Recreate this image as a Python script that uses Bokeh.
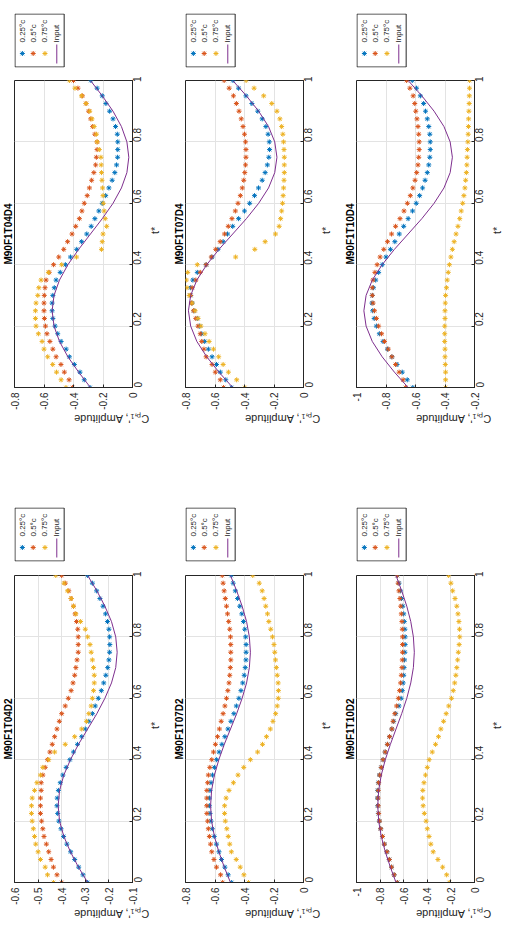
from math import pi

from bokeh.core.properties import value
from bokeh.embed import file_html
from bokeh.layouts import column, row
from bokeh.models import CustomJSTickFormatter, FixedTicker, Range1d
from bokeh.plotting import figure
from bokeh.resources import INLINE

# sample instants (non-dimensional time t*) of the measured series
T_STAR = [round(0.025 * i, 3) for i in range(41)]
# instants at which the input signal is listed
T_INPUT = [round(0.05 * i, 2) for i in range(21)]

SERIES_LABELS = ["0.25°c", "0.5°c", "0.75°c"]
INPUT_LABEL = "Input"
T_TICKS = [0, 0.2, 0.4, 0.6, 0.8, 1]

# ---- M90F1T04D2 ----
T04D2_025 = [-0.290, -0.310, -0.328, -0.345, -0.362, -0.378, -0.392, -0.403, -0.412, -0.417, -0.420,
             -0.419, -0.414, -0.406, -0.395, -0.381, -0.365, -0.350, -0.333, -0.315, -0.300,
             -0.285, -0.270, -0.258, -0.245, -0.232, -0.222, -0.213, -0.205, -0.200, -0.197,
             -0.196, -0.197, -0.200, -0.206, -0.214, -0.225, -0.238, -0.252, -0.270, -0.290]
T04D2_050 = [-0.400, -0.420, -0.435, -0.445, -0.455, -0.465, -0.475, -0.480, -0.485, -0.490, -0.490,
             -0.490, -0.487, -0.487, -0.480, -0.470, -0.460, -0.450, -0.440, -0.430, -0.420,
             -0.410, -0.400, -0.385, -0.372, -0.360, -0.352, -0.345, -0.340, -0.335, -0.330,
             -0.330, -0.330, -0.332, -0.337, -0.343, -0.350, -0.360, -0.370, -0.385, -0.400]
T04D2_075 = [-0.435, -0.460, -0.470, -0.490, -0.500, -0.510, -0.515, -0.520, -0.525, -0.528, -0.528,
             -0.525, -0.515, -0.505, -0.490, -0.480, -0.455, -0.430, -0.385, -0.345, -0.315,
             -0.295, -0.285, -0.275, -0.270, -0.265, -0.262, -0.262, -0.265, -0.270, -0.275,
             -0.280, -0.290, -0.300, -0.320, -0.340, -0.350, -0.360, -0.375, -0.390, -0.425]
T04D2_IN = [-0.290, -0.329, -0.363, -0.391, -0.409, -0.415, -0.409, -0.391, -0.363, -0.329, -0.290,
            -0.251, -0.217, -0.189, -0.171, -0.165, -0.171, -0.189, -0.217, -0.251, -0.290]
T04D2_TICKS = [-0.6, -0.5, -0.4, -0.3, -0.2, -0.1]

# ---- M90F1T04D4 ----
T04D4_025 = [-0.288, -0.327, -0.356, -0.394, -0.428, -0.450, -0.484, -0.507, -0.525, -0.540, -0.545,
             -0.545, -0.540, -0.530, -0.518, -0.490, -0.455, -0.420, -0.378, -0.345, -0.310,
             -0.280, -0.255, -0.228, -0.205, -0.182, -0.160, -0.138, -0.120, -0.108, -0.101,
             -0.100, -0.100, -0.103, -0.115, -0.132, -0.155, -0.180, -0.205, -0.240, -0.282]
T04D4_050 = [-0.406, -0.430, -0.462, -0.485, -0.518, -0.540, -0.560, -0.580, -0.590, -0.597, -0.600,
             -0.600, -0.598, -0.593, -0.586, -0.565, -0.535, -0.500, -0.466, -0.440, -0.410,
             -0.385, -0.360, -0.343, -0.327, -0.307, -0.292, -0.277, -0.262, -0.250, -0.245,
             -0.240, -0.240, -0.255, -0.270, -0.283, -0.297, -0.315, -0.340, -0.370, -0.400]
T04D4_075 = [-0.451, -0.484, -0.515, -0.541, -0.575, -0.600, -0.613, -0.638, -0.654, -0.658, -0.658,
             -0.654, -0.642, -0.635, -0.620, -0.570, -0.480, -0.380, -0.210, -0.205, -0.200,
             -0.175, -0.185, -0.192, -0.198, -0.200, -0.203, -0.207, -0.210, -0.212, -0.214,
             -0.225, -0.240, -0.245, -0.260, -0.275, -0.290, -0.315, -0.345, -0.390, -0.428]
T04D4_IN = [-0.285, -0.365, -0.438, -0.495, -0.532, -0.545, -0.532, -0.495, -0.438, -0.365, -0.285,
            -0.205, -0.132, -0.075, -0.038, -0.025, -0.038, -0.075, -0.132, -0.205, -0.285]
T04D4_TICKS = [-0.8, -0.6, -0.4, -0.2, 0]

# ---- M90F1T07D2 ----
T07D2_025 = [-0.487, -0.511, -0.533, -0.556, -0.573, -0.590, -0.605, -0.618, -0.627, -0.634, -0.638,
             -0.638, -0.634, -0.627, -0.617, -0.604, -0.589, -0.572, -0.553, -0.533, -0.512,
             -0.492, -0.472, -0.455, -0.438, -0.424, -0.412, -0.402, -0.395, -0.390, -0.389,
             -0.389, -0.392, -0.398, -0.407, -0.418, -0.432, -0.447, -0.462, -0.477, -0.490]
T07D2_050 = [-0.548, -0.562, -0.590, -0.607, -0.622, -0.630, -0.638, -0.645, -0.650, -0.655, -0.656,
             -0.656, -0.655, -0.650, -0.645, -0.635, -0.622, -0.610, -0.597, -0.583, -0.570,
             -0.558, -0.545, -0.533, -0.522, -0.513, -0.505, -0.500, -0.496, -0.493, -0.493,
             -0.493, -0.495, -0.500, -0.507, -0.515, -0.522, -0.530, -0.538, -0.545, -0.551]
T07D2_075 = [-0.373, -0.404, -0.429, -0.456, -0.489, -0.500, -0.510, -0.520, -0.530, -0.535, -0.535,
             -0.525, -0.505, -0.475, -0.444, -0.405, -0.360, -0.311, -0.278, -0.251, -0.225,
             -0.207, -0.189, -0.178, -0.171, -0.170, -0.172, -0.178, -0.184, -0.190, -0.195,
             -0.200, -0.210, -0.222, -0.235, -0.244, -0.256, -0.267, -0.280, -0.300, -0.344]
T07D2_IN = [-0.495, -0.537, -0.574, -0.604, -0.623, -0.630, -0.623, -0.604, -0.574, -0.537, -0.495,
            -0.453, -0.416, -0.386, -0.367, -0.360, -0.367, -0.386, -0.416, -0.453, -0.495]
T07D2_TICKS = [-0.8, -0.6, -0.4, -0.2, 0]

# ---- M90F1T07D4 ----
T07D4_025 = [-0.487, -0.527, -0.564, -0.590, -0.620, -0.645, -0.670, -0.690, -0.705, -0.720, -0.742,
             -0.755, -0.765, -0.765, -0.750, -0.720, -0.660, -0.620, -0.580, -0.545, -0.515,
             -0.480, -0.440, -0.400, -0.365, -0.332, -0.305, -0.280, -0.260, -0.245, -0.235,
             -0.230, -0.232, -0.240, -0.255, -0.280, -0.310, -0.350, -0.390, -0.440, -0.478]
T07D4_050 = [-0.542, -0.564, -0.598, -0.620, -0.660, -0.675, -0.690, -0.700, -0.715, -0.730, -0.745,
             -0.760, -0.765, -0.755, -0.730, -0.700, -0.660, -0.625, -0.595, -0.565, -0.535,
             -0.510, -0.485, -0.462, -0.444, -0.428, -0.415, -0.405, -0.398, -0.393, -0.390,
             -0.390, -0.393, -0.400, -0.410, -0.422, -0.437, -0.455, -0.475, -0.504, -0.538]
T07D4_075 = [-0.398, -0.453, -0.509, -0.545, -0.575, -0.610, -0.640, -0.668, -0.696, -0.715, -0.735,
             -0.755, -0.775, -0.790, -0.795, -0.785, -0.720, -0.460, -0.330, -0.260, -0.190,
             -0.165, -0.155, -0.148, -0.142, -0.138, -0.135, -0.132, -0.130, -0.130, -0.130,
             -0.132, -0.135, -0.140, -0.148, -0.160, -0.180, -0.215, -0.270, -0.335, -0.389]
T07D4_IN = [-0.480, -0.573, -0.656, -0.723, -0.765, -0.780, -0.765, -0.723, -0.656, -0.573, -0.480,
            -0.387, -0.304, -0.237, -0.195, -0.180, -0.195, -0.237, -0.304, -0.387, -0.480]
T07D4_TICKS = [-0.8, -0.6, -0.4, -0.2, 0]

# ---- M90F1T10D2 ----
T10D2_025 = [-0.653, -0.681, -0.703, -0.722, -0.742, -0.764, -0.780, -0.795, -0.807, -0.815, -0.820,
             -0.822, -0.820, -0.815, -0.805, -0.790, -0.775, -0.757, -0.738, -0.720, -0.700,
             -0.685, -0.668, -0.640, -0.622, -0.612, -0.605, -0.600, -0.597, -0.593, -0.590,
             -0.588, -0.588, -0.590, -0.595, -0.600, -0.608, -0.618, -0.628, -0.640, -0.653]
T10D2_050 = [-0.655, -0.681, -0.703, -0.722, -0.742, -0.764, -0.780, -0.795, -0.805, -0.812, -0.816,
             -0.818, -0.816, -0.812, -0.803, -0.790, -0.775, -0.757, -0.738, -0.720, -0.700,
             -0.690, -0.675, -0.660, -0.645, -0.635, -0.627, -0.620, -0.615, -0.612, -0.610,
             -0.610, -0.610, -0.612, -0.615, -0.620, -0.625, -0.632, -0.640, -0.647, -0.655]
T10D2_075 = [-0.214, -0.236, -0.270, -0.310, -0.350, -0.370, -0.385, -0.400, -0.410, -0.425, -0.435,
             -0.440, -0.438, -0.428, -0.415, -0.400, -0.384, -0.358, -0.330, -0.305, -0.285,
             -0.262, -0.240, -0.218, -0.195, -0.180, -0.168, -0.158, -0.150, -0.143, -0.137,
             -0.130, -0.125, -0.127, -0.132, -0.140, -0.150, -0.165, -0.185, -0.200, -0.219]
T10D2_IN = [-0.665, -0.713, -0.756, -0.790, -0.812, -0.820, -0.812, -0.790, -0.756, -0.713, -0.665,
            -0.617, -0.574, -0.540, -0.518, -0.510, -0.518, -0.540, -0.574, -0.617, -0.665]
T10D2_TICKS = [-1, -0.8, -0.6, -0.4, -0.2, 0]

# ---- M90F1T10D4 ----
T10D4_025 = [-0.618, -0.656, -0.690, -0.725, -0.760, -0.790, -0.820, -0.845, -0.865, -0.880, -0.890,
             -0.895, -0.893, -0.885, -0.870, -0.850, -0.825, -0.800, -0.770, -0.740, -0.710,
             -0.680, -0.650, -0.620, -0.595, -0.572, -0.552, -0.535, -0.520, -0.510, -0.503,
             -0.500, -0.500, -0.503, -0.510, -0.520, -0.532, -0.545, -0.567, -0.593, -0.622]
T10D4_050 = [-0.667, -0.684, -0.711, -0.735, -0.760, -0.785, -0.810, -0.830, -0.850, -0.865, -0.878,
             -0.888, -0.893, -0.893, -0.888, -0.875, -0.860, -0.840, -0.815, -0.790, -0.762,
             -0.735, -0.705, -0.678, -0.655, -0.635, -0.618, -0.603, -0.592, -0.583, -0.578,
             -0.575, -0.575, -0.578, -0.583, -0.590, -0.598, -0.605, -0.616, -0.638, -0.660]
T10D4_075 = [-0.396, -0.396, -0.396, -0.398, -0.400, -0.400, -0.402, -0.402, -0.402, -0.400, -0.400,
             -0.398, -0.396, -0.390, -0.385, -0.378, -0.370, -0.360, -0.350, -0.338, -0.325,
             -0.312, -0.300, -0.290, -0.280, -0.272, -0.265, -0.260, -0.255, -0.252, -0.250,
             -0.248, -0.245, -0.243, -0.241, -0.240, -0.238, -0.236, -0.235, -0.234, -0.233]
T10D4_IN = [-0.650, -0.743, -0.826, -0.893, -0.935, -0.950, -0.935, -0.893, -0.826, -0.743, -0.650,
            -0.557, -0.474, -0.407, -0.365, -0.350, -0.365, -0.407, -0.474, -0.557, -0.650]
T10D4_TICKS = [-1, -0.8, -0.6, -0.4, -0.2]

BLUE, RED, YELLOW, PURPLE = "#0072BD", "#D95319", "#EDB120", "#7E2F8E"
AXIS_COLOR = "#262626"
GRID_COLOR = "#e3e3e3"
FONT = "Liberation Sans"
MARKER_SIZE = 5

# shared horizontal geometry of every column (frames line up inside a column)
FIG_W, BORDER_L, BORDER_R = 171, 12, 39
FRAME_W = FIG_W - BORDER_L - BORDER_R

TICK_FORMAT = CustomJSTickFormatter(code="return String(Math.round(tick * 100) / 100)")


def legend_box(border_top, border_bottom):
    """Legend drawn as its own small plot: box, markers and rotated entry texts.

    The plot uses pixel-sized ranges so the legend keeps its size."""
    lg = figure(width=FIG_W, height=border_top + 54 + border_bottom,
                x_range=Range1d(0, FRAME_W), y_range=Range1d(0, 54),
                x_axis_location=None, y_axis_location=None,
                min_border_left=BORDER_L, min_border_right=BORDER_R,
                min_border_top=border_top, min_border_bottom=border_bottom,
                toolbar_location=None, output_backend="svg")
    lg.grid.visible = False
    lg.outline_line_color = None
    lg.background_fill_color = "white"
    lg.border_fill_color = "white"
    lg.quad(left=0.5, right=50.5, bottom=0.5, top=53.5, fill_color="white",
            line_color=AXIS_COLOR, line_width=1)
    xs = [8, 19, 31]
    lg.scatter(x=xs, y=[14, 14, 14], marker="asterisk", size=MARKER_SIZE,
               line_color=[BLUE, RED, YELLOW], line_width=1)
    lg.line(x=[43, 43], y=[4, 23], line_color=PURPLE, line_width=1)
    lg.text(x=xs + [43], y=[25, 25, 25, 25], text=SERIES_LABELS + [INPUT_LABEL],
            angle=pi / 2, text_align="left", text_baseline="middle",
            text_font=value(FONT), text_font_size="8px", text_color="#262626")
    return lg


def panel(title, s025, s050, s075, s_in, ticks, border_bottom):
    lo, hi = ticks[0], ticks[-1]
    p = figure(width=FIG_W, height=4 + 307 + border_bottom,
               x_range=Range1d(lo, hi), y_range=Range1d(0, 1),
               x_axis_location="below", y_axis_location="right",
               title=title, title_location="left",
               min_border_left=BORDER_L, min_border_right=BORDER_R,
               min_border_top=4, min_border_bottom=border_bottom,
               toolbar_location=None, output_backend="svg")
    p.background_fill_color = "white"
    p.border_fill_color = "white"
    p.outline_line_color = AXIS_COLOR
    p.outline_line_width = 1

    p.title.text_font = FONT
    p.title.text_font_size = "10px"
    p.title.text_font_style = "bold"
    p.title.text_color = "black"
    p.title.align = "center"
    p.title.standoff = 1

    xa = p.xaxis[0]
    xa.ticker = FixedTicker(ticks=ticks)
    xa.formatter = TICK_FORMAT
    xa.major_label_orientation = pi / 2
    xa.axis_label = "Cₚ,₁', Amplitude"
    xa.axis_label_orientation = pi

    ya = p.yaxis[0]
    ya.ticker = FixedTicker(ticks=T_TICKS)
    ya.formatter = TICK_FORMAT
    ya.major_label_orientation = pi / 2
    ya.axis_label = "t*"
    ya.axis_label_orientation = pi / 2

    for ax in (xa, ya):
        ax.axis_line_color = AXIS_COLOR
        ax.major_tick_line_color = AXIS_COLOR
        ax.major_tick_in = 3
        ax.major_tick_out = 0
        ax.minor_tick_line_color = None
        ax.major_label_text_font = FONT
        ax.major_label_text_font_size = "10px"
        ax.major_label_text_color = AXIS_COLOR
        ax.major_label_standoff = 5
        ax.axis_label_text_font = FONT
        ax.axis_label_text_font_size = "11px"
        ax.axis_label_text_font_style = "normal"
        ax.axis_label_text_color = AXIS_COLOR
        ax.axis_label_standoff = 6

    p.grid.grid_line_color = GRID_COLOR
    p.grid.grid_line_width = 1

    for ys, col in ((s025, BLUE), (s050, RED), (s075, YELLOW)):
        p.scatter(x=ys, y=T_STAR, marker="asterisk", size=MARKER_SIZE, line_color=col, line_width=1)
    p.line(x=s_in, y=T_INPUT, line_color=PURPLE, line_width=1)
    return p


TOP = [("M90F1T04D4", T04D4_025, T04D4_050, T04D4_075, T04D4_IN, T04D4_TICKS),
       ("M90F1T07D4", T07D4_025, T07D4_050, T07D4_075, T07D4_IN, T07D4_TICKS),
       ("M90F1T10D4", T10D4_025, T10D4_050, T10D4_075, T10D4_IN, T10D4_TICKS)]
BOTTOM = [("M90F1T04D2", T04D2_025, T04D2_050, T04D2_075, T04D2_IN, T04D2_TICKS),
          ("M90F1T07D2", T07D2_025, T07D2_050, T07D2_075, T07D2_IN, T07D2_TICKS),
          ("M90F1T10D2", T10D2_025, T10D2_050, T10D2_075, T10D2_IN, T10D2_TICKS)]

top_row = row(*[column(legend_box(13, 9), panel(*case, border_bottom=108), spacing=0)
                 for case in TOP], spacing=0)
bottom_row = row(*[column(legend_box(12, 10), panel(*case, border_bottom=53), spacing=0)
                    for case in BOTTOM], spacing=0)
page = column(top_row, bottom_row, spacing=0)

open("out.html", "w").write(file_html(page, INLINE))
